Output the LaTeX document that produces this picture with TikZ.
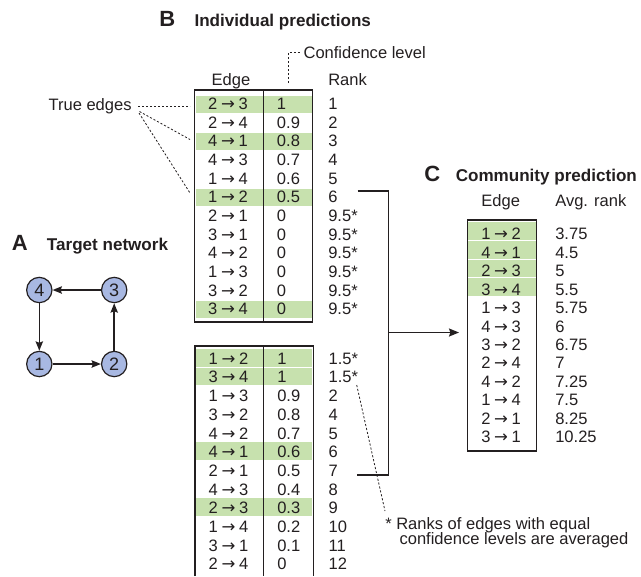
\documentclass[tikz,border=0pt]{standalone}
\usepackage{fontspec}
\setmainfont{Liberation Sans}
\newfontfamily\arrowfont{DejaVu Sans}
\usetikzlibrary{arrows.meta}
\definecolor{tgreen}{RGB}{199,225,174}
\definecolor{nodefill}{RGB}{168,184,226}
\definecolor{ink}{RGB}{35,31,32}
\newcommand{\edg}[2]{#1\hspace{0.22em}{\arrowfont →}\hspace{0.22em}#2}
\begin{document}
\begin{tikzpicture}[x=0.75pt,y=-0.75pt,
  txt/.style={inner sep=0pt, anchor=base, font=\fontsize{12.4}{14}\selectfont, text=ink},
  txtw/.style={txt, anchor=base west},
  title/.style={inner sep=0pt, anchor=base west, font=\bfseries\fontsize{12.8}{15}\selectfont, text=ink},
  letter/.style={inner sep=0pt, anchor=base west, font=\bfseries\fontsize{16.5}{19}\selectfont, text=ink},
  tab/.style={draw=ink, line width=1.1pt},
  gnode/.style={circle, draw=ink, line width=0.9pt, fill=nodefill, minimum size=19pt, inner sep=0pt, font=\fontsize{13.5}{15}\selectfont, text=ink},
  link/.style={draw=ink, line width=1.1pt, -{Stealth[length=7pt,width=5.5pt,inset=1pt]}},
  lead/.style={draw=ink, line width=0.6pt, dash pattern=on 1.6pt off 1.4pt},
]
\useasboundingbox (0,0) rectangle (641,576);

% ---------- Titles ----------
\node[letter] (lB) at (159,26.7) {B};
\node[title] (tB) at (194.3,26.7) {Individual predictions};
\node[letter] (lA) at (11.5,250.7) {A};
\node[title] (tA) at (46.7,250.7) {Target network};
\node[letter] (lC) at (424,181.7) {C};
\node[title] (tC) at (455.5,181.7) {Community prediction};

% ---------- A: network ----------
\node[gnode] (n4) at (39.3,290) {4};
\node[gnode] (n3) at (114.2,290) {3};
\node[gnode] (n1) at (39.3,364) {1};
\node[gnode] (n2) at (114.2,364) {2};
\draw[link] (n3) -- (n4);
\draw[link] (n4) -- (n1);
\draw[link] (n1) -- (n2);
\draw[link] (n2) -- (n3);

% ---------- B: top table ----------
\foreach \i in {0,2,5,11}
  \fill[tgreen] (195.5,{95+18.65*\i+0.5}) rectangle (311.5,{95+18.65*(\i+1)-0.5});
\draw[tab] (194.5,90) rectangle (312.5,322);
\draw[tab] (263.5,90) -- (263.5,322);
\node[txt] (h1e) at (231,85) {Edge};
\node[txtw] (h1r) at (328,85) {Rank};
\node[txtw] (hconf) at (303.3,58.3) {Confidence level};
\coordinate (cl0) at (288.3,83);
\coordinate (cl1) at (288.3,52.5);
\coordinate (cl2) at (301,52.5);
\draw[lead] (cl0) -- (cl1) -- (cl2);
\foreach \a/\b/\c/\r [count=\i from 0] in {2/3/1/1, 2/4/0.9/2, 4/1/0.8/3, 4/3/0.7/4, 1/4/0.6/5, 1/2/0.5/6, 2/1/0/9.5*, 3/1/0/9.5*, 4/2/0/9.5*, 1/3/0/9.5*, 3/2/0/9.5*, 3/4/0/9.5*}{
  \node[txt] (ae\i) at (228,{95+18.65*\i+14.6}) {\edg{\a}{\b}};
  \node[txtw] (ac\i) at (276.7,{95+18.65*\i+14.6}) {\c};
  \node[txtw] (ar\i) at (328,{95+18.65*\i+14.6}) {\r};
}
% True edges
\node[txtw] (true) at (48.3,110.7) {True edges};
\coordinate (te1) at (138,106.5);
\coordinate (te2) at (139.5,111.5);
\coordinate (te3) at (139,113);
\coordinate (tr0) at (190,106.5);
\coordinate (tr2) at (190,139.5);
\coordinate (tr5) at (190,193);
\draw[lead] (te1) -- (tr0);
\draw[lead] (te2) -- (tr2);
\draw[lead] (te3) -- (tr5);

% ---------- B: bottom table ----------
\foreach \i in {0,1,5,8}
  \fill[tgreen] (196,{348.3+18.7*\i+0.5}) rectangle (312.3,{348.3+18.7*(\i+1)-0.5});
\draw[tab] (195,576) -- (195,346) -- (313.3,346) -- (313.3,576);
\draw[tab] (263.7,346) -- (263.7,576);
\foreach \a/\b/\c/\r [count=\i from 0] in {1/2/1/1.5*, 3/4/1/1.5*, 1/3/0.9/2, 3/2/0.8/4, 4/2/0.7/5, 4/1/0.6/6, 2/1/0.5/7, 4/3/0.4/8, 2/3/0.3/9, 1/4/0.2/10, 3/1/0.1/11, 2/4/0/12}{
  \node[txt] (be\i) at (228.5,{364.2+18.7*\i}) {\edg{\a}{\b}};
  \node[txtw] (bc\i) at (277,{364.2+18.7*\i}) {\c};
  \node[txtw] (br\i) at (328.3,{364.2+18.7*\i}) {\r};
}

% ---------- bracket and arrow ----------
\coordinate (bt) at (357.5,191);
\coordinate (btc) at (388.3,191);
\coordinate (bbc) at (388.3,475);
\coordinate (bb) at (356.7,475);
\coordinate (bm) at (388.3,332.5);
\coordinate (ca) at (459,332.5);
\draw[draw=ink, line width=1.1pt] (bt) -- (btc) -- (bbc) -- (bb);
\draw[draw=ink, line width=1.1pt, -{Stealth[length=7.5pt,width=6pt,inset=1pt]}] (bm) -- (ca);

% ---------- C: community table ----------
\fill[tgreen] (468.3,222.3) rectangle (535.7,{222.3+18.43*4});
\foreach \i in {1,2,3}
  \draw[white, line width=0.6pt] (468.3,{222.3+18.43*\i}) -- (535.7,{222.3+18.43*\i});
\draw[tab] (467.3,220) rectangle (536.7,451);
\node[txt] (h3e) at (500.7,206.7) {Edge};
\node[txtw] (h3r) at (555,206.7) {Avg. rank};
\foreach \a/\b/\r [count=\i from 0] in {1/2/3.75, 4/1/4.5, 2/3/5, 3/4/5.5, 1/3/5.75, 4/3/6, 3/2/6.75, 2/4/7, 4/2/7.25, 1/4/7.5, 2/1/8.25, 3/1/10.25}{
  \node[txt] (ce\i) at (501,{239.9+18.43*\i}) {\edg{\a}{\b}};
  \node[txtw] (cr\i) at (555,{239.9+18.43*\i}) {\r};
}

% ---------- footnote ----------
\node[txtw] (fn1) at (385,529.3) {* Ranks of edges with equal};
\node[txtw] (fn2) at (399.3,544.5) {confidence levels are averaged};
\coordinate (fs) at (356.7,385);
\coordinate (fe) at (385,511);
\draw[lead] (fs) -- (fe);
\end{tikzpicture}
\end{document}
